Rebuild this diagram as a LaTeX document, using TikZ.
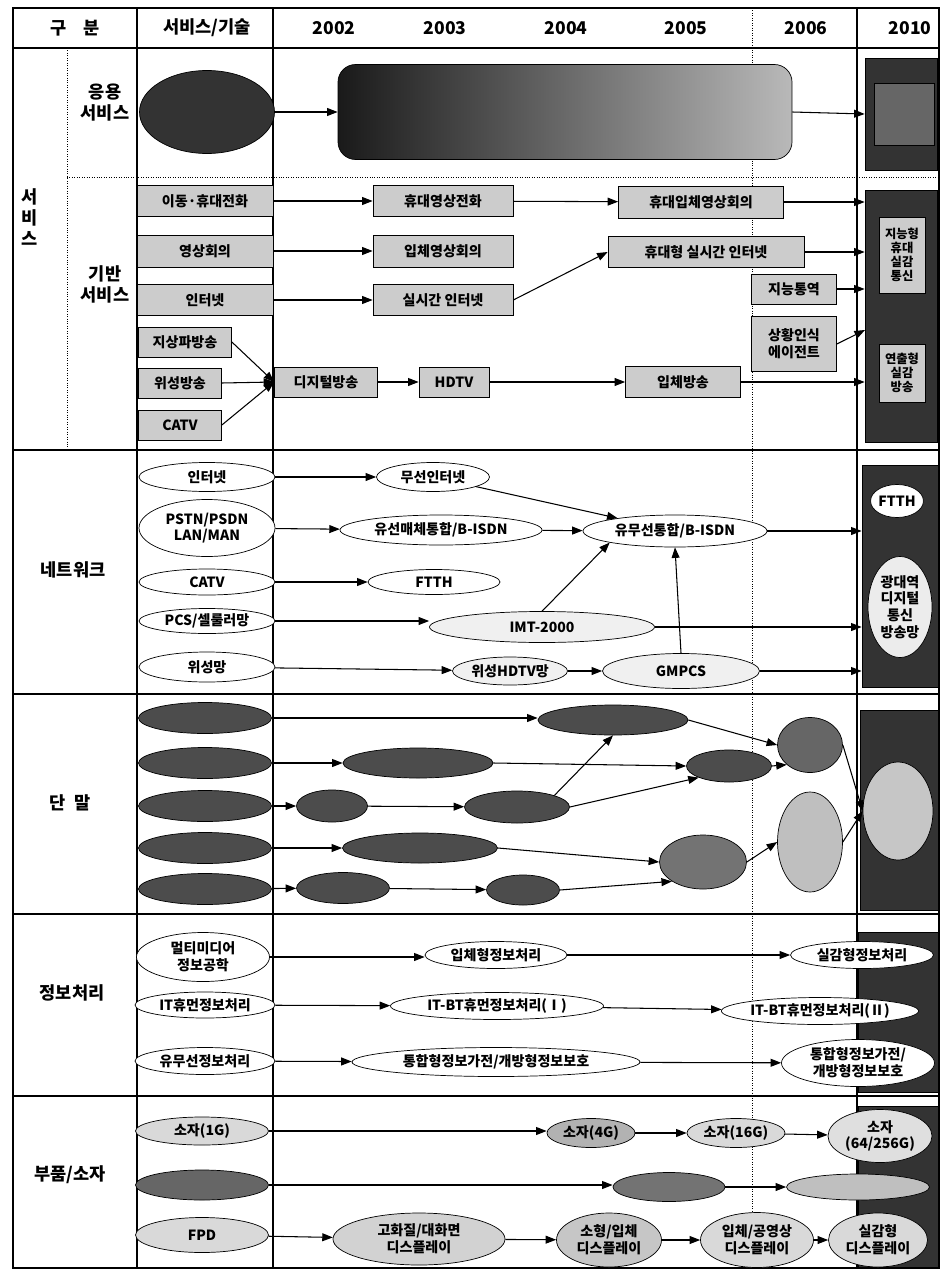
\documentclass[tikz,border=0pt]{standalone}
\usepackage{fontspec}
\setmainfont{Noto Sans CJK KR}
\usetikzlibrary{shapes.geometric,arrows.meta}

\tikzset{
  wd/.style={minimum width=#1*0.02cm},
  ht/.style={minimum height=#1*0.02cm},
  sbox/.style={draw,fill=gray!40,font=\footnotesize\bfseries,inner sep=0pt,align=center},
  ell/.style={ellipse,draw,fill=white,font=\footnotesize\bfseries,inner sep=0pt,align=center},
  dkell/.style={ell,fill=black!70},
  gyell/.style={ell,fill=gray!40},
  yrbox/.style={draw,fill=black!80,inner sep=0pt},
  arr/.style={-{Triangle[length=6pt,width=4.5pt]},line width=0.6pt},
}

\begin{document}
\begin{tikzpicture}[x=0.02cm,y=-0.02cm,font=\bfseries]
  \useasboundingbox (0,0) rectangle (940,1274);

  % table grid
  \draw[line width=1.1pt] (13,8) rectangle (939,1268);
  \draw[line width=0.8pt] (13,48) -- (939,48);
  \draw[line width=0.6pt] (137,8) -- (137,1268);
  \draw[line width=0.6pt] (273,8) -- (273,1268);
  \draw[line width=0.6pt] (857,8) -- (857,1268);
  \draw[densely dotted] (752,8) -- (752,1268);
  \draw[densely dotted] (67,48) -- (67,450);
  \draw[densely dotted] (67,177) -- (939,177);
  \foreach \y in {450,694,914,1096}
    \draw[line width=0.8pt] (13,\y) -- (939,\y);

  % header row
  \node at (75,28) {구\quad 분};
  \node at (207,28) {서비스/기술};
  \node at (334,28) {2002};
  \node at (445,28) {2003};
  \node at (566,28) {2004};
  \node at (686,28) {2005};
  \node at (806,28) {2006};
  \node at (910,28) {2010};

  % category labels
  \node[align=center] at (30,217) {서\\비\\스};
  \node[align=center] at (105,103) {응용\\서비스};
  \node[align=center] at (105,284) {기반\\서비스};
  \node at (73,570) {네트워크};
  \node at (70,803) {단\ \ 말};
  \node at (72,993) {정보처리};
  \node at (70,1175) {부품/소자};

  % application services
  \node[ellipse,draw,fill=black!80,wd=135,ht=83] (app0) at (207,112) {};
  \node[draw,rounded corners=10pt,left color=black!90,right color=gray!55,wd=454,ht=95] (app1) at (565,112) {};
  \node[yrbox,wd=72,ht=112] (app2) at (901,114) {};
  \node[draw,fill=black!60,wd=60,ht=62] (app2in) at (904,114) {};
  \draw[arr] (app0) -- (app1);
  \draw[arr] (app1.east) -- (app2.west);

  % base services
  \node[yrbox,wd=72,ht=252] (bs10) at (901,316) {};
  \node[sbox,font=\scriptsize\bfseries,wd=46,ht=76] (bs10a) at (902,255) {지능형\\휴대\\실감\\통신};
  \node[sbox,font=\scriptsize\bfseries,wd=46,ht=58] (bs10b) at (902,373) {연출형\\실감\\방송};

  \node[sbox,wd=136,ht=31] (b11) at (205,201) {이동·휴대전화};
  \node[sbox,wd=140,ht=31] (b12) at (443,201) {휴대영상전화};
  \node[sbox,wd=165,ht=32] (b13) at (701,202) {휴대입체영상회의};
  \node[sbox,wd=136,ht=32] (b21) at (205,251) {영상회의};
  \node[sbox,wd=140,ht=32] (b22) at (443,251) {입체영상회의};
  \node[sbox,wd=196,ht=31] (b23) at (706,252) {휴대형 실시간 인터넷};
  \node[sbox,wd=136,ht=31] (b31) at (205,300) {인터넷};
  \node[sbox,wd=140,ht=31] (b32) at (443,300) {실시간 인터넷};
  \node[sbox,wd=85,ht=30] (b33) at (794,289) {지능통역};
  \node[sbox,wd=85,ht=55] (b34) at (794,344) {상황인식\\에이전트};
  \coordinate (b34e) at (865,330);

  \node[sbox,wd=93,ht=30] (c1) at (185,342) {지상파방송};
  \node[sbox,wd=83,ht=30] (c2) at (180,383) {위성방송};
  \node[sbox,wd=83,ht=30] (c3) at (180,425) {CATV};
  \node[sbox,wd=103,ht=30] (c4) at (326,382) {디지털방송};
  \node[sbox,wd=70,ht=30] (c5) at (454,382) {HDTV};
  \node[sbox,wd=115,ht=31] (c6) at (683,382) {입체방송};

  \draw[arr] (b11) -- (b12);
  \draw[arr] (b12) -- (b13);
  \draw[arr] (b13) -- (b13 -| bs10.west);
  \draw[arr] (b21) -- (b22);
  \draw[arr] (b31) -- (b32);
  \draw[arr] (b32.east) -- (b23.west);
  \draw[arr] (b23) -- (b23 -| bs10.west);
  \draw[arr] (b33) -- (b33 -| bs10.west);
  \draw[arr] (b34.east) -- (b34e);
  \draw[arr] (c1.east) -- (c4.west);
  \draw[arr] (c2.east) -- (c4.west);
  \draw[arr] (c3.east) -- (c4.west);
  \draw[arr] (c4) -- (c5);
  \draw[arr] (c5) -- (c6);
  \draw[arr] (c6) -- (c6 -| bs10.west);

  % network
  \node[yrbox,wd=76,ht=222] (nw10) at (900,576) {};
  \node[ell,wd=43,ht=33] (nw10a) at (897,501) {FTTH};
  \node[ell,fill=gray!15,wd=64,ht=101] (nw10b) at (900,607) {광대역\\디지털\\통신\\방송망};

  \node[ell,wd=136,ht=29] (n11) at (207,477) {인터넷};
  \node[ell,wd=136,ht=57] (n21) at (207,528) {PSTN/PSDN\\LAN/MAN};
  \node[ell,wd=136,ht=26] (n31) at (207,582) {CATV};
  \node[ell,wd=136,ht=25] (n41) at (207,621) {PCS/셀룰러망};
  \node[ell,wd=136,ht=30] (n51) at (207,667) {위성망};
  \node[ell,wd=113,ht=29] (n12) at (433,477) {무선인터넷};
  \node[ell,wd=202,ht=30] (n22) at (441,530) {유선매체통합/B-ISDN};
  \node[ell,wd=132,ht=25] (n32) at (434,582) {FTTH};
  \node[ell,fill=gray!12,wd=225,ht=31] (n42) at (542,627) {IMT-2000};
  \node[ell,fill=gray!12,wd=115,ht=28] (n52) at (510,671) {위성HDTV망};
  \node[ell,fill=gray!12,wd=157,ht=35] (n53) at (681,671) {GMPCS};
  \node[ell,wd=184,ht=32] (n23) at (675,531) {유무선통합/B-ISDN};

  \draw[arr] (n11) -- (n12);
  \draw[arr] (n21) -- (n22);
  \draw[arr] (n31) -- (n32);
  \draw[arr] (n41) -- (n41 -| n42.west);
  \draw[arr] (n51) -- (n52);
  \draw[arr] (n52) -- (n53);
  \draw[arr] (n12) -- (n23);
  \draw[arr] (n22) -- (n23);
  \draw[arr] (n42.north) -- (n23.south west);
  \draw[arr] (n53.north) -- (n23.south);
  \draw[arr] (n23) -- (n23 -| nw10.west);
  \draw[arr] (n42) -- (n42 -| nw10.west);
  \draw[arr] (n53) -- (n53 -| nw10.west);

  % terminals
  \node[yrbox,wd=78,ht=200] (tm10) at (899,810) {};
  \node[ell,fill=gray!45,wd=70,ht=98] (tL) at (898,811) {};

  \foreach \n/\y in {1/718,2/763,3/806,4/848,5/889}
    \node[dkell,wd=133,ht=31] (t\n) at (205,\y) {};
  \node[dkell,wd=150,ht=30] (tA) at (613,720) {};
  \node[dkell,wd=150,ht=30] (tB) at (418,763) {};
  \node[dkell,wd=71,ht=32] (tC) at (332,806) {};
  \node[dkell,wd=105,ht=32] (tD) at (517,807) {};
  \node[dkell,wd=85,ht=32] (tE) at (729,766) {};
  \node[dkell,wd=155,ht=30] (tF) at (420,848) {};
  \node[dkell,fill=black!55,wd=87,ht=54] (tG) at (703,862) {};
  \node[dkell,wd=93,ht=31] (tH) at (343,888) {};
  \node[dkell,wd=73,ht=30] (tI) at (523,890) {};
  \node[dkell,fill=black!60,wd=65,ht=55] (tJ) at (810,745) {};
  \node[dkell,fill=gray!50,wd=65,ht=100] (tK) at (810,842) {};

  \draw[arr] (t1) -- (t1 -| tA.west);
  \draw[arr] (t2) -- (t2 -| tB.west);
  \draw[arr] (tB.east) -- (tE.west);
  \draw[arr] (t3) -- (tC);
  \draw[arr] (tC) -- (tD);
  \draw[arr] (tD.north east) -- (tA.south);
  \draw[arr] (tD.east) -- (tE.south west);
  \draw[arr] (t4) -- (t4 -| tF.west);
  \draw[arr] (tF.east) -- (tG.west);
  \draw[arr] (t5) -- (tH);
  \draw[arr] (tH) -- (tI);
  \draw[arr] (tI.east) -- (tG.south west);
  \draw[arr] (tA.east) -- (tJ.west);
  \draw[arr] (tE.east) -- (tJ.south west);
  \draw[arr] (tG.east) -- (tK.west);
  \draw[arr] (tJ.east) -- (tL.west);
  \draw[arr] (tK.east) -- (tL.west);

  % information processing
  \node[yrbox,wd=80,ht=160] (ip10) at (898,1012) {};

  \node[ell,wd=133,ht=49] (p11) at (203,957) {멀티미디어\\정보공학};
  \node[ell,wd=142,ht=27] (p12) at (496,955) {입체형정보처리};
  \node[ell,wd=143,ht=27] (p13) at (862,955) {실감형정보처리};
  \node[ell,wd=140,ht=26] (p21) at (205,1005) {IT휴먼정보처리};
  \node[ell,wd=213,ht=27] (p22) at (497,1006) {IT-BT휴먼정보처리(Ⅰ)};
  \node[ell,wd=196,ht=27] (p23) at (820,1011) {IT-BT휴먼정보처리(Ⅱ)};
  \node[ell,wd=140,ht=27] (p31) at (205,1061) {유무선정보처리};
  \node[ell,wd=288,ht=29] (p32) at (496,1062) {통합형정보가전/개방형정보보호};
  \node[ell,wd=153,ht=47] (p33) at (858,1063) {통합형정보가전/\\개방형정보보호};

  \draw[arr] (p11) -- (p11 -| p12.west);
  \draw[arr] (p12) -- (p13);
  \draw[arr] (p21) -- (p22);
  \draw[arr] (p22) -- (p23);
  \draw[arr] (p31) -- (p32);
  \draw[arr] (p32) -- (p33);

  % parts and devices
  \node[yrbox,wd=80,ht=161] (pd10) at (898,1187) {};

  \node[gyell,fill=gray!30,wd=133,ht=28] (m11) at (202,1131) {소자(1G)};
  \node[gyell,fill=gray!60,wd=88,ht=29] (m12) at (591,1133) {소자(4G)};
  \node[gyell,fill=gray!30,wd=98,ht=29] (m13) at (736,1133) {소자(16G)};
  \node[gyell,fill=gray!25,wd=104,ht=53] (m14) at (880,1136) {소자\\(64/256G)};
  \node[gyell,fill=black!60,wd=133,ht=30] (m21) at (202,1185) {};
  \node[gyell,fill=black!55,wd=112,ht=29] (m22) at (669,1187) {};
  \node[gyell,fill=gray!50,wd=143,ht=26] (m23) at (858,1187) {};
  \node[gyell,fill=gray!30,wd=133,ht=35] (m31) at (202,1235) {FPD};
  \node[gyell,fill=gray!35,wd=172,ht=52] (m32) at (419,1239) {고화질/대화면\\디스플레이};
  \node[gyell,fill=gray!45,wd=105,ht=54] (m33) at (609,1240) {소형/입체\\디스플레이};
  \node[gyell,fill=gray!30,wd=113,ht=55] (m34) at (757,1240) {입체/공영상\\디스플레이};
  \node[gyell,fill=gray!30,wd=99,ht=54] (m35) at (878,1240) {실감형\\디스플레이};

  \draw[arr] (m11) -- (m11 -| m12.west);
  \draw[arr] (m12) -- (m13);
  \draw[arr] (m13) -- (m14);
  \draw[arr] (m21) -- (m21 -| m22.west);
  \draw[arr] (m22) -- (m23);
  \draw[arr] (m31) -- (m32);
  \draw[arr] (m32) -- (m33);
  \draw[arr] (m33) -- (m34);
  \draw[arr] (m34) -- (m35);
\end{tikzpicture}
\end{document}
